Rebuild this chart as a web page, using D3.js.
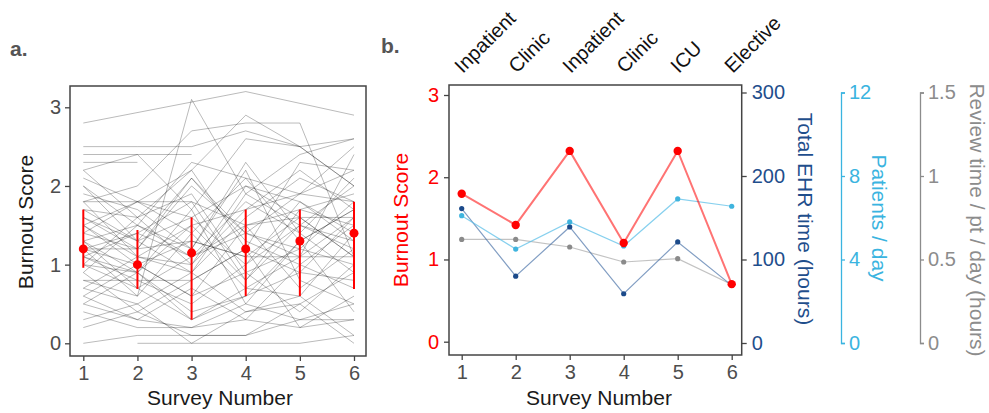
<!DOCTYPE html>
<html><head><meta charset="utf-8">
<script src="https://cdn.jsdelivr.net/npm/d3@7"></script>
<style>
body{margin:0;background:#fff;}
svg{font-family:"Liberation Sans",Arial,sans-serif;}
</style></head>
<body><svg id="c" width="989" height="413"></svg>
<script>
// ---------- DATA ----------
const surveys = [1,2,3,4,5,6];
const rotations = ["Inpatient","Clinic","Inpatient","Clinic","ICU","Elective"];
// panel a: individual burnout trajectories (null = missing)
const participants = [
 [2.8,null,null,3.2,null,2.9],
 [2.5,2.5,2.5,2.7,2.5,2.0],
 [2.4,null,2.4,null,null,null],
 [2.3,2.3,null,null,null,null],
 [1.2,0.6,3.1,1.9,1.5,1.3],
 [1.8,2.0,2.7,2.8,2.8,1.1],
 [1.5,1.8,2.2,2.9,2.5,2.6],
 [2.2,2.4,1.7,2.6,2.5,2.0],
 [2.0,1.5,2.3,2.1,1.9,2.5],
 [2.1,1.8,1.4,2.1,1.3,1.7],
 [1.8,1.8,1.8,1.5,1.6,1.6],
 [1.7,1.6,2.2,1.2,2.3,2.2],
 [1.6,1.3,1.6,2.0,1.6,1.1],
 [1.5,1.1,1.0,1.7,1.9,1.8],
 [1.4,1.2,2.0,1.4,1.1,2.4],
 [1.3,0.9,1.5,0.8,1.7,1.5],
 [1.2,1.2,1.3,1.1,1.1,1.1],
 [1.2,1.0,0.6,1.5,1.7,1.9],
 [1.1,1.4,1.1,1.8,1.4,0.9],
 [1.1,0.8,0.8,1.2,0.9,1.6],
 [1.0,1.6,1.9,0.9,1.2,1.0],
 [1.0,0.9,0.4,0.6,1.3,1.7],
 [0.9,1.5,1.2,2.2,0.8,0.5],
 [0.8,0.8,0.5,1.0,1.5,1.2],
 [0.8,0.6,1.4,0.7,0.6,1.4],
 [0.7,1.1,0.9,1.6,2.1,1.8],
 [0.6,0.3,0.7,0.3,1.0,0.7],
 [0.5,0.3,0.2,0.5,0.3,0.3],
 [0.4,0.2,0.2,0.3,0.2,0.3],
 [0.3,0.5,0.9,0.4,0.6,0.1],
 [0.2,0.4,0.1,0.1,0.3,0.5],
 [0.0,0.1,0.1,0.1,0.5,0.0],
 [null,0.0,0.0,0.0,0.0,0.1],
 [1.9,1.7,1.2,2.3,1.4,2.1],
 [1.7,1.3,0.9,1.9,2.4,2.6],
 [1.4,1.8,1.6,1.0,1.8,1.3],
 [1.3,0.7,0.3,0.6,0.9,0.8],
 [1.6,1.2,2.1,1.3,1.0,1.5],
 [0.9,0.4,0.8,1.2,0.2,0.6],
 [1.2,1.4,1.8,0.8,1.5,2.0],
 [0.5,0.9,0.3,0.7,1.1,1.6],
 [1.0,0.7,1.1,1.5,0.7,1.2],
 [2.2,1.6,1.0,2.0,1.8,1.4],
 [1.8,1.1,1.5,1.7,2.2,1.7],
 [0.7,0.5,0.0,0.4,0.5,0.9],
 [1.5,1.0,1.3,1.1,1.6,1.1],
 [1.1,0.9,1.7,0.5,1.3,0.4],
 [2.0,1.3,2.1,1.4,1.9,2.2],
 [0.6,1.0,0.6,0.9,0.4,1.0],
 [1.3,1.5,1.1,1.4,1.2,1.8]
];
const meanBurnout = [1.2,1.0,1.15,1.2,1.3,1.4];
const lowBurnout  = [0.96,0.69,0.3,0.6,0.6,0.69];
const highBurnout = [1.7,1.44,1.6,1.7,1.7,1.8];
// panel b
const burnoutScore = [1.8,1.42,2.32,1.2,2.32,0.7];
const ehrHours     = [161,80,139,59,121,69];
const patientsDay  = [6.1,4.5,5.8,4.65,6.9,6.55];
const reviewTime   = [0.62,0.62,0.575,0.485,0.505,0.35];
const burnoutTicks = [0,1,2,3];
const ehrTicks = [0,100,200,300];
const patTicks = [0,4,8,12];
const revTicks = [0,0.5,1,1.5];

// ---------- DRAW ----------
const svg = d3.select("#c");
const tickCol = "#4d4d4d", boxCol = "#444";
const fs = "20px";
const ts = "21px";

function styleAxis(g, col, lineCol){
  g.selectAll("text").attr("fill", col).style("font-size", fs);
  g.selectAll("line").attr("stroke", lineCol).attr("stroke-width", 1.3);
  g.selectAll("path").attr("stroke", lineCol).attr("stroke-width", 1.3);
  g.attr("font-family", null);
}

// ===== Panel a =====
const xA = d3.scaleLinear().domain([1,6]).range([83.3,354]);
const yA = d3.scaleLinear().domain([0,3]).range([343.3,107.3]);
const boxA = {x:70, y:86, w:296, h:270};

svg.append("text").attr("x",10).attr("y",56).text("a.")
  .attr("fill","#555").style("font-weight","bold").style("font-size","21px");

const gA = svg.append("g");
const lineA = d3.line().x(d=>xA(d[0])).y(d=>yA(d[1]));
participants.forEach(p=>{
  const pts = p.map((v,i)=>[surveys[i],v]).filter(d=>d[1]!==null);
  gA.append("path").attr("d", lineA(pts)).attr("fill","none")
    .attr("stroke","#000").attr("stroke-opacity",0.27).attr("stroke-width",1);
});
surveys.forEach((s,i)=>{
  gA.append("line").attr("x1",xA(s)).attr("x2",xA(s))
    .attr("y1",yA(lowBurnout[i])).attr("y2",yA(highBurnout[i]))
    .attr("stroke","#ff0000").attr("stroke-width",2);
  gA.append("circle").attr("cx",xA(s)).attr("cy",yA(meanBurnout[i])).attr("r",4.5)
    .attr("fill","#ff0000");
});
svg.append("rect").attr("x",boxA.x).attr("y",boxA.y).attr("width",boxA.w).attr("height",boxA.h)
  .attr("fill","none").attr("stroke",boxCol).attr("stroke-width",1.5);
const axLA = svg.append("g").attr("transform",`translate(${boxA.x},0)`)
  .call(d3.axisLeft(yA).tickValues(burnoutTicks).tickFormat(d3.format("d")).tickSize(5).tickPadding(4));
axLA.select(".domain").remove();
styleAxis(axLA, tickCol, boxCol);
const axBA = svg.append("g").attr("transform",`translate(0,${boxA.y+boxA.h})`)
  .call(d3.axisBottom(xA).tickValues(surveys).tickFormat(d3.format("d")).tickSize(5).tickPadding(5));
axBA.select(".domain").remove();
styleAxis(axBA, tickCol, boxCol);
svg.append("text").attr("x",220).attr("y",405).attr("text-anchor","middle")
  .text("Survey Number").attr("fill","#1a1a1a").style("font-size",ts);
svg.append("text").attr("transform","translate(26,222) rotate(-90)").attr("dy","0.35em")
  .attr("text-anchor","middle").text("Burnout Score").attr("fill","#1a1a1a").style("font-size",ts);

// ===== Panel b =====
const xB = d3.scaleLinear().domain([1,6]).range([461.7,731.7]);
const yB = d3.scaleLinear().domain([0,3]).range([341.7,95]);
const yE = d3.scaleLinear().domain([0,300]).range([343,92.5]);
const yP = d3.scaleLinear().domain([0,12]).range([343,92.5]);
const yR = d3.scaleLinear().domain([0,1.5]).range([343,92.5]);
const boxB = {x:449, y:85, w:292.7, h:270};

svg.append("text").attr("x",381).attr("y",53).text("b.")
  .attr("fill","#555").style("font-weight","bold").style("font-size","21px");

rotations.forEach((r,i)=>{
  svg.append("text").attr("transform",`translate(${xB(surveys[i])+1},74) rotate(-45)`)
    .text(r).attr("fill","#111").style("font-size","20px");
});

const gB = svg.append("g");
function series(vals, y, lineCol, lineW, lineOp, ptCol, r){
  const pts = vals.map((v,i)=>[surveys[i],v]);
  gB.append("path").attr("d", d3.line().x(d=>xB(d[0])).y(d=>y(d[1]))(pts))
    .attr("fill","none").attr("stroke",lineCol).attr("stroke-width",lineW).attr("stroke-opacity",lineOp);
  gB.selectAll(null).data(pts).enter().append("circle")
    .attr("cx",d=>xB(d[0])).attr("cy",d=>y(d[1])).attr("r",r).attr("fill",ptCol);
}
series(reviewTime, yR, "#9a9a9a", 1.2, 0.6, "#8a8a8a", 2.6);
series(ehrHours, yE, "#3f6aa3", 1.2, 0.65, "#1b4a8a", 2.6);
series(patientsDay, yP, "#5fc0e8", 1.2, 0.75, "#3fb4de", 2.6);
series(burnoutScore, yB, "#ff0000", 2, 0.55, "#ff0000", 4.2);

svg.append("rect").attr("x",boxB.x).attr("y",boxB.y).attr("width",boxB.w).attr("height",boxB.h)
  .attr("fill","none").attr("stroke",boxCol).attr("stroke-width",1.5);

const axLB = svg.append("g").attr("transform",`translate(${boxB.x},0)`)
  .call(d3.axisLeft(yB).tickValues(burnoutTicks).tickFormat(d3.format("d")).tickSize(5).tickPadding(5));
axLB.select(".domain").remove();
styleAxis(axLB, "#ff0000", boxCol);
const axBB = svg.append("g").attr("transform",`translate(0,${boxB.y+boxB.h})`)
  .call(d3.axisBottom(xB).tickValues(surveys).tickFormat(d3.format("d")).tickSize(5).tickPadding(5));
axBB.select(".domain").remove();
styleAxis(axBB, tickCol, boxCol);

const axE = svg.append("g").attr("transform",`translate(${boxB.x+boxB.w},0)`)
  .call(d3.axisRight(yE).tickValues(ehrTicks).tickSize(5).tickPadding(5));
axE.select(".domain").remove();
styleAxis(axE, "#1f4e8c", boxCol);

const axP = svg.append("g").attr("transform","translate(841,0)")
  .call(d3.axisRight(yP).tickValues(patTicks).tickSizeInner(4).tickSizeOuter(4).tickPadding(4));
styleAxis(axP, "#3ab4e0", "#3ab4e0");

const axR = svg.append("g").attr("transform","translate(920,0)")
  .call(d3.axisRight(yR).tickValues(revTicks).tickFormat(d=>String(d)).tickSizeInner(4).tickSizeOuter(4).tickPadding(4));
styleAxis(axR, "#8c8c8c", "#8c8c8c");

svg.append("text").attr("x",599).attr("y",405).attr("text-anchor","middle")
  .text("Survey Number").attr("fill","#1a1a1a").style("font-size",ts);
svg.append("text").attr("transform","translate(401,220) rotate(-90)").attr("dy","0.35em")
  .attr("text-anchor","middle").text("Burnout Score").attr("fill","#ff0000").style("font-size",ts);
svg.append("text").attr("transform","translate(805,219) rotate(90)").attr("dy","0.35em")
  .attr("text-anchor","middle").text("Total EHR time (hours)").attr("fill","#1f4e8c").style("font-size",ts);
svg.append("text").attr("transform","translate(879,218) rotate(90)").attr("dy","0.35em")
  .attr("text-anchor","middle").text("Patients / day").attr("fill","#3ab4e0").style("font-size",ts);
svg.append("text").attr("transform","translate(977,220) rotate(90)").attr("dy","0.35em")
  .attr("text-anchor","middle").text("Review time / pt / day (hours)").attr("fill","#8c8c8c").style("font-size",ts);
</script></body></html>
